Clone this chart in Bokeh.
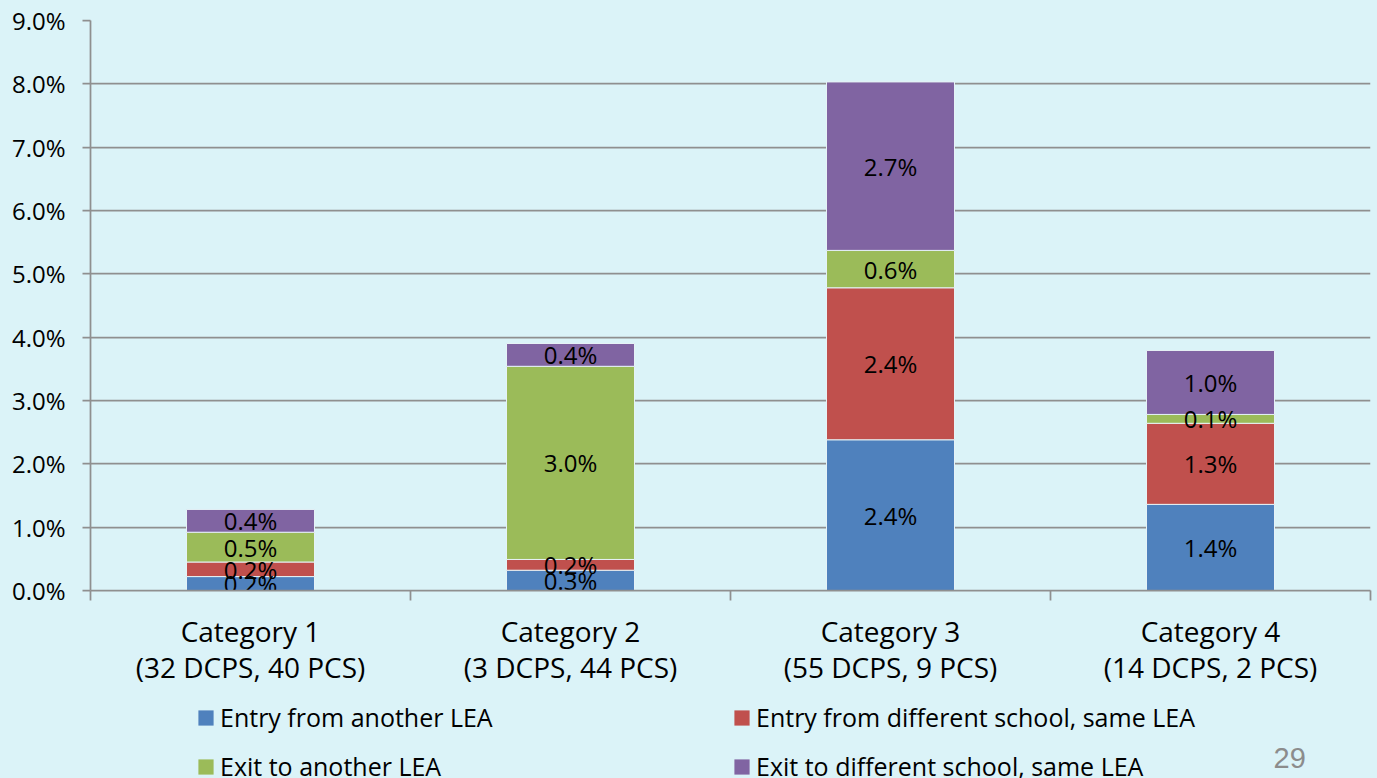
import numpy as np
from bokeh.plotting import figure
from bokeh.layouts import column
from bokeh.models import (Range1d, FixedTicker, PrintfTickFormatter, Legend, LegendItem,
                          ColumnDataSource, Label)
from bokeh.core.properties import value
from bokeh.embed import file_html
from bokeh.resources import INLINE

categories = ["Category 1\n(32 DCPS, 40 PCS)", "Category 2\n(3 DCPS, 44 PCS)",
              "Category 3\n(55 DCPS, 9 PCS)", "Category 4\n(14 DCPS, 2 PCS)"]
series_names = ["Entry from another LEA", "Entry from different school, same LEA",
                "Exit to another LEA", "Exit to different school, same LEA"]
entry_other_lea = [0.22, 0.32, 2.38, 1.36]
entry_diff_school = [0.23, 0.17, 2.40, 1.28]
exit_other_lea = [0.47, 3.05, 0.59, 0.14]
exit_diff_school = [0.36, 0.36, 2.66, 1.01]
y_ticks = [0, 1, 2, 3, 4, 5, 6, 7, 8, 9]
page_number = "29"

colors = ["#4F81BD", "#C0504D", "#9BBB59", "#8064A2"]
BG = "#DBF3F8"
GRAY = "#8F8F8F"
FONT = "Open Sans"

series = [entry_other_lea, entry_diff_school, exit_other_lea, exit_diff_school]
n = len(categories)
xs = np.arange(n) + 0.5

W = 1377
H1 = 700
H2 = 778 - H1
LEFT, RIGHT = 90, 7

p = figure(width=W, height=H1, output_backend="svg", toolbar_location=None,
           x_range=Range1d(0, n), y_range=Range1d(0, 9),
           min_border_left=LEFT, min_border_right=RIGHT, min_border_top=20, min_border_bottom=110)
p.background_fill_color = BG
p.border_fill_color = BG
p.outline_line_color = None

bottom = np.zeros(n)
for vals, c in zip(series, colors):
    vals = np.array(vals)
    src = ColumnDataSource(dict(x=xs, top=bottom + vals, bottom=bottom.copy()))
    p.vbar(x="x", top="top", bottom="bottom", width=0.4, source=src,
           fill_color=c, line_color="#E6F2F6", line_width=1)
    bottom = bottom + vals

bottom = np.zeros(n)
for vals in series:
    vals = np.array(vals)
    src = ColumnDataSource(dict(x=xs, mid=bottom + vals / 2,
                                lab=[f"{v:.1f}%" for v in vals]))
    p.text(x="x", y="mid", text="lab", source=src, text_align="center",
           text_baseline="middle", text_font=value(FONT), text_font_size="24px",
           text_color="black")
    bottom = bottom + vals

# y axis
p.yaxis.ticker = FixedTicker(ticks=y_ticks)
p.yaxis.formatter = PrintfTickFormatter(format="%.1f%%")
p.yaxis.axis_line_color = GRAY
p.yaxis.axis_line_width = 1.75
p.yaxis.major_tick_line_color = GRAY
p.yaxis.major_tick_line_width = 1.75
p.yaxis.major_tick_out = 8
p.yaxis.major_tick_in = 0
p.yaxis.minor_tick_line_color = None
p.yaxis.major_label_text_font = FONT
p.yaxis.major_label_text_font_size = "24px"
p.yaxis.major_label_text_color = "black"
p.yaxis.major_label_standoff = 17

p.ygrid.ticker = FixedTicker(ticks=y_ticks)
p.ygrid.grid_line_color = GRAY
p.ygrid.grid_line_width = 1.75
p.xgrid.grid_line_color = None

# x axis
p.xaxis.ticker = FixedTicker(ticks=list(xs), minor_ticks=list(range(n + 1)))
p.xaxis.major_label_overrides = {float(x): c for x, c in zip(xs, categories)}
p.xaxis.axis_line_color = GRAY
p.xaxis.axis_line_width = 1.75
p.xaxis.major_tick_line_color = None
p.xaxis.major_tick_out = 0
p.xaxis.major_tick_in = 0
p.xaxis.minor_tick_line_color = GRAY
p.xaxis.minor_tick_line_width = 1.75
p.xaxis.minor_tick_out = 10
p.xaxis.minor_tick_in = 0
p.xaxis.major_label_text_font = FONT
p.xaxis.major_label_text_font_size = "28px"
p.xaxis.major_label_text_color = "black"
p.xaxis.major_label_text_line_height = 0.95
p.xaxis.major_label_standoff = 11

# legend panel
p2 = figure(width=W, height=H2, output_backend="svg", toolbar_location=None,
            x_range=Range1d(0, W - LEFT - RIGHT), y_range=Range1d(0, H2),
            x_axis_location=None, y_axis_location=None,
            min_border_left=LEFT, min_border_right=RIGHT, min_border_top=0, min_border_bottom=0)
p2.background_fill_color = None
p2.border_fill_color = BG
p2.outline_line_color = None
p2.grid.grid_line_color = None

# legend swatches: zero-size marks, only their style is shown in the legend
dummies = [p2.vbar(x=[-1000], top=[0], bottom=[0], width=0, fill_color=c, line_color=None)
           for c in colors]
order = [0, 2, 1, 3]  # row-major: two entries per row
legend = Legend(items=[LegendItem(label=series_names[i], renderers=[dummies[i]]) for i in order],
                ncols=2, location=(106, -5))
legend.background_fill_alpha = 0
legend.border_line_color = None
legend.label_text_font = FONT
legend.label_text_font_size = "25px"
legend.label_text_color = "black"
legend.glyph_width = 19
legend.glyph_height = 19
legend.label_standoff = 5
legend.label_width = 497
legend.label_height = 34
legend.spacing = 15
legend.padding = 0
legend.margin = 0
p2.add_layout(legend, "center")

p2.add_layout(Label(x=1183, y=21, text=page_number, text_baseline="alphabetic",
                    text_font="Liberation Sans", text_font_size="29px",
                    text_color="#8C8C8C"))

layout = column(p, p2, spacing=0, styles={"background-color": BG})
open("out.html", "w").write(file_html(layout, INLINE))
